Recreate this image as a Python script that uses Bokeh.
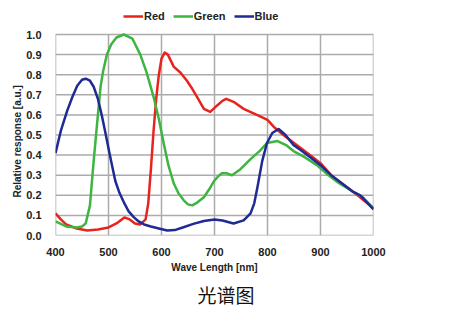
from bokeh.plotting import figure
from bokeh.models import Legend, LegendItem, Title, FixedTicker, CustomJSTickFormatter
from bokeh.embed import file_html
from bokeh.resources import INLINE

red_x = [400, 410, 420, 440, 460, 480, 500, 515, 530, 540, 550, 560, 570, 575, 580, 585, 590, 595, 600, 606, 612, 623, 636, 648, 658, 667, 680, 692, 705, 715, 722, 736, 755, 780, 800, 812, 830, 850, 880, 900, 920, 950, 970, 1000]
red_y = [0.11, 0.08, 0.055, 0.035, 0.025, 0.03, 0.04, 0.06, 0.09, 0.08, 0.06, 0.055, 0.08, 0.16, 0.33, 0.52, 0.68, 0.8, 0.88, 0.91, 0.9, 0.84, 0.81, 0.77, 0.73, 0.69, 0.63, 0.615, 0.647, 0.67, 0.68, 0.665, 0.63, 0.6, 0.575, 0.54, 0.5, 0.46, 0.4, 0.36, 0.3, 0.24, 0.2, 0.135]

green_x = [400, 420, 440, 450, 457, 465, 472, 480, 485, 490, 497, 505, 515, 529, 545, 560, 572, 585, 595, 604, 613, 623, 632, 642, 650, 658, 668, 680, 690, 699, 707, 714, 722, 733, 749, 768, 785, 799, 819, 835, 849, 870, 893, 915, 935, 960, 980, 1000]
green_y = [0.07, 0.045, 0.04, 0.045, 0.06, 0.15, 0.37, 0.6, 0.74, 0.82, 0.9, 0.95, 0.985, 1.0, 0.98, 0.9, 0.81, 0.69, 0.58, 0.46, 0.35, 0.26, 0.21, 0.175, 0.155, 0.15, 0.165, 0.19, 0.23, 0.27, 0.295, 0.31, 0.31, 0.30, 0.33, 0.38, 0.42, 0.46, 0.47, 0.45, 0.42, 0.39, 0.35, 0.3, 0.26, 0.22, 0.19, 0.135]

blue_x = [400, 410, 422, 432, 441, 450, 457, 465, 472, 480, 488, 495, 501, 507, 513, 521, 529, 538, 548, 557, 567, 580, 595, 611, 625, 640, 660, 680, 700, 715, 736, 755, 768, 775, 781, 790, 799, 809, 821, 834, 849, 865, 880, 900, 920, 940, 960, 975, 1000]
blue_y = [0.41, 0.52, 0.62, 0.69, 0.745, 0.775, 0.78, 0.77, 0.74, 0.68, 0.59, 0.5, 0.42, 0.345, 0.27, 0.21, 0.165, 0.12, 0.09, 0.07, 0.055, 0.045, 0.035, 0.025, 0.027, 0.04, 0.058, 0.072, 0.08, 0.075, 0.06, 0.075, 0.11, 0.16, 0.24, 0.37, 0.46, 0.51, 0.53, 0.5, 0.45, 0.42, 0.39, 0.35, 0.3, 0.26, 0.22, 0.2, 0.13]

x_ticks = [400, 500, 600, 700, 800, 900, 1000]
y_ticks = [0.0, 0.1, 0.2, 0.3, 0.4, 0.5, 0.6, 0.7, 0.8, 0.9, 1.0]

FONT = "Liberation Sans"
GRID = "#ababab"

# frame extends above 1.0 so the legend can sit inside it (legend area: 30 px)
y_top = 1.0 + 30 / 201

p = figure(width=454, height=313, output_backend="svg", toolbar_location=None,
           x_range=(400, 1000), y_range=(0, y_top),
           min_border_left=55, min_border_right=81, min_border_top=4, min_border_bottom=78)
p.background_fill_color = "white"
p.border_fill_color = "white"
p.outline_line_color = None
p.xgrid.visible = False
p.ygrid.visible = False

for ax in (p.xaxis[0], p.yaxis[0]):
    ax.axis_line_color = None
    ax.major_tick_line_color = None
    ax.minor_tick_line_color = None
    ax.major_label_text_font = FONT
    ax.major_label_text_font_style = "bold"
    ax.major_label_text_font_size = "11px"
    ax.major_label_text_color = "#222222"
    ax.axis_label_text_font = FONT
    ax.axis_label_text_font_style = "bold"
    ax.axis_label_text_font_size = "10px"
    ax.axis_label_text_color = "#222222"

p.xaxis.ticker = FixedTicker(ticks=x_ticks)
p.yaxis.ticker = FixedTicker(ticks=y_ticks)
p.yaxis.formatter = CustomJSTickFormatter(code="return tick.toFixed(1);")
p.xaxis.axis_label = "Wave Length [nm]"
p.xaxis.major_label_standoff = 6
p.yaxis.major_label_standoff = 8
p.xaxis.axis_label_standoff = 3

ylab = Title(text="Relative response [a.u.]", align="left", offset=38,
             text_font=FONT, text_font_style="bold", text_font_size="10px",
             text_color="#222222", standoff=2)
p.add_layout(ylab, "left")

# grid + frame box drawn from the tick lists
p.segment(x0=x_ticks, y0=[y_ticks[0]] * len(x_ticks), x1=x_ticks, y1=[y_ticks[-1]] * len(x_ticks),
          line_color=GRID, line_width=1.5)
p.segment(x0=[x_ticks[0]] * len(y_ticks), y0=y_ticks, x1=[x_ticks[-1]] * len(y_ticks), y1=y_ticks,
          line_color=GRID, line_width=1.5)

r_red = p.line(red_x, red_y, line_color="#e8231e", line_width=2.5, line_join="round")
r_green = p.line(green_x, green_y, line_color="#3db540", line_width=2.5, line_join="round")
r_blue = p.line(blue_x, blue_y, line_color="#1f2a94", line_width=2.5, line_join="round")

legend = Legend(items=[LegendItem(label="Red", renderers=[r_red]),
                       LegendItem(label="Green", renderers=[r_green]),
                       LegendItem(label="Blue", renderers=[r_blue])],
                orientation="horizontal", location=(68, 213),
                label_text_font=FONT, label_text_font_style="bold",
                label_text_font_size="11px", label_text_color="#222222",
                glyph_width=20, glyph_height=10, label_standoff=1, spacing=8,
                padding=0, margin=0, border_line_color=None, background_fill_alpha=0)
p.add_layout(legend, "center")

cap = Title(text="光谱图", align="left", offset=142, text_font="Noto Sans CJK SC",
            text_font_size="19px", text_font_style="normal", text_color="#111111",
            standoff=6)
p.add_layout(cap, "below")

open("out.html", "w").write(file_html(p, INLINE))
